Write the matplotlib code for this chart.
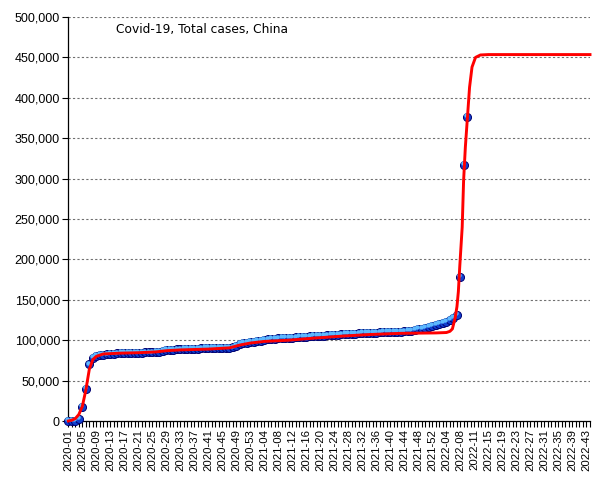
import matplotlib
matplotlib.use("Agg")
import matplotlib.pyplot as plt
import matplotlib.transforms as mtransforms
from matplotlib.ticker import FuncFormatter, MultipleLocator

# ---- data -------------------------------------------------------------
title = "Covid-19, Total cases, China"

tick_labels = [
    "2020-01", "2020-05", "2020-09", "2020-13", "2020-17", "2020-21", "2020-25",
    "2020-29", "2020-33", "2020-37", "2020-41", "2020-45", "2020-49", "2020-53",
    "2021-04", "2021-08", "2021-12", "2021-16", "2021-20", "2021-24", "2021-28",
    "2021-32", "2021-36", "2021-40", "2021-44", "2021-48", "2021-52",
    "2022-04", "2022-08", "2022-11", "2022-15", "2022-19", "2022-23", "2022-27",
    "2022-31", "2022-35", "2022-39", "2022-43",
]

# weekly cumulative cases (one value per week, starting 2020-01)
total_cases = [
    0, 40, 300, 2500, 17500, 40000, 70000, 78000, 81000, 81500,
    82000, 82500, 83000, 83300, 83600, 84000, 84200, 84300, 84400, 84500,
    84600, 84700, 84800, 84900, 85000, 85200, 85500, 86500, 87500, 88000,
    88300, 88500, 88700, 88900, 89100, 89300, 89500, 89700, 89900, 90000,
    90200, 90300, 90500, 90600, 90700, 90800, 90900, 91000, 93000, 95500,
    96500, 97000, 97500, 98000, 98800, 99500, 100300, 101000, 101800, 102000,
    102300, 102500, 102800, 103000, 103300, 103500, 103800, 104000, 104500, 104800,
    105000, 105300, 105500, 105800, 106000, 106300, 106500, 106800, 107200, 107500,
    107800, 108000, 108200, 108400, 108600, 108800, 109000, 109200, 109400, 109600,
    109800, 110000, 110100, 110300, 110400, 110500, 111000, 111400, 112000, 112800,
    113500, 114200, 115000, 116000, 117200, 118500, 120000, 121500, 123000, 125000,
    127500, 131000, 178600, 317000, 376600,
]

# fitted curve (week index, value)
fit_week = [0, 1, 2, 3, 4, 5, 6, 7, 8, 9, 10, 15, 20, 25, 28, 32, 40, 46, 49,
            52, 56, 63, 70, 78, 86, 95, 105, 108, 109, 109.7, 110.5, 111, 111.4,
            111.8, 112.5, 112.9, 113.4, 114, 114.6, 115.3, 116.3, 117.7, 120, 149]
fit_value = [0, 1000, 3000, 8000, 18000, 38000, 64000, 76000, 80000, 81500,
             83000, 84000, 84500, 85500, 87000, 88000, 89000, 90500, 94000,
             96500, 98500, 100000, 102500, 105000, 107000, 108500, 109000, 109500,
             111000, 114000, 128000, 141500, 160000, 191000, 240000, 297600,
             339000, 376000, 413000, 438000, 450000, 453000, 453500, 453500]

# ---- figure -----------------------------------------------------------
W, H = 605, 480
fig = plt.figure(figsize=(W / 100, H / 100), dpi=100)
ax = fig.add_axes([68.3 / W, (H - 421) / H, (590 - 68.3) / W, 404 / H])

weeks = list(range(len(total_cases)))

# 3D-ball look: dark body + light highlight offset up-left
ax.plot(weeks, total_cases, linestyle="none", marker="o", markersize=5.8,
        markerfacecolor="#1040d0", markeredgecolor="#000070",
        markeredgewidth=0.7, zorder=3, clip_on=False)
offset = mtransforms.ScaledTranslation(-0.8 / 72, 1.3 / 72, fig.dpi_scale_trans)
ax.plot(weeks, total_cases, linestyle="none", marker="o", markersize=3.2,
        markerfacecolor="#5cb8ff", markeredgecolor="#5cb8ff",
        markeredgewidth=0, zorder=3.1, clip_on=False,
        transform=ax.transData + offset)

ax.plot(fit_week, fit_value, color="#ff0000", linewidth=2.1, zorder=4,
        clip_on=False)

ax.set_xlim(0, 149)
ax.set_ylim(0, 500000)

ax.set_xticks(list(range(0, 4 * len(tick_labels), 4)))
ax.set_xticklabels(tick_labels, rotation=90, fontsize=8.2,
                   family="Liberation Sans")
ax.xaxis.set_minor_locator(MultipleLocator(1))
ax.tick_params(axis="x", which="both", direction="out", length=4, width=0.8,
               pad=2, colors="black")

ax.yaxis.set_major_locator(MultipleLocator(50000))
ax.yaxis.set_major_formatter(FuncFormatter(lambda v, p: f"{int(v):,}"))
ax.tick_params(axis="y", direction="out", length=4, width=0.8, pad=2,
               labelsize=9)
for lab in ax.get_yticklabels():
    lab.set_family("Liberation Sans")

ax.grid(axis="y", color="#707070", linestyle=(0, (2, 2)), linewidth=0.8)
ax.set_axisbelow(True)

for s in ("top", "right"):
    ax.spines[s].set_visible(False)
for s in ("left", "bottom"):
    ax.spines[s].set_linewidth(0.9)

ax.text((116 - 68.3) / (590 - 68.3), (421 - 30) / 404, title,
        transform=ax.transAxes, fontsize=8.8, va="center", ha="left",
        family="DejaVu Sans")

fig.savefig("out.png", dpi=100)
